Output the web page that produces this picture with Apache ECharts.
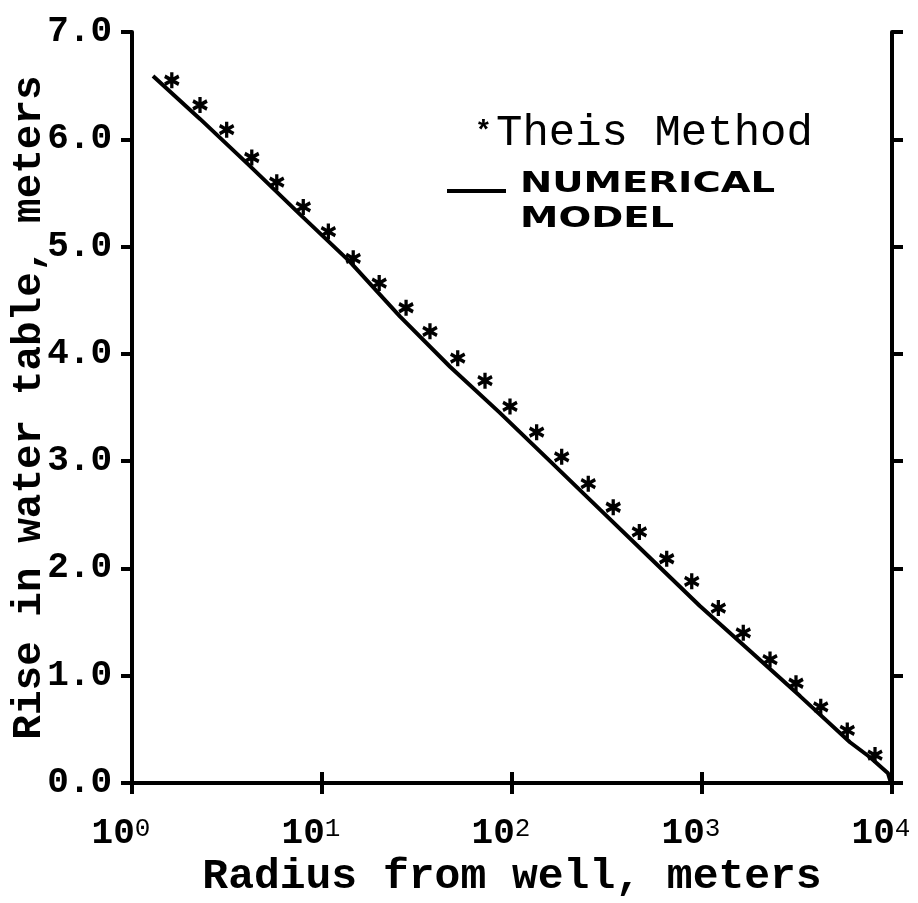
<!DOCTYPE html>
<html>
<head>
<meta charset="utf-8">
<script src="https://cdn.jsdelivr.net/npm/echarts@6/dist/echarts.min.js"></script>
<style>
  html, body { margin: 0; padding: 0; background: #fff; }
  #chart { width: 918px; height: 903px; }
</style>
</head>
<body>
<div id="chart"></div>
<script>
  // Theis method points (radius m, rise m)
  var theisRadius = [1.62, 2.28, 3.15, 4.27, 5.78, 7.97, 10.8, 14.6, 20.0, 27.7, 37.0, 51.8, 72.1, 97.6,
    134.8, 182.6, 252, 341, 468, 652, 883, 1219, 1649, 2280, 3124, 4217, 5816, 8140];
  var theisRise = [6.55, 6.32, 6.09, 5.83, 5.60, 5.37, 5.14, 4.89, 4.66, 4.43, 4.21, 3.96, 3.75, 3.51,
    3.27, 3.04, 2.79, 2.57, 2.34, 2.09, 1.88, 1.63, 1.40, 1.15, 0.93, 0.71, 0.49, 0.26];

  // numerical model curve
  var modelRadius = [1.29, 2.28, 4.18, 7.66, 14.0, 25.7, 47.2, 86.4, 158.5, 290, 532, 975, 1790,
    3280, 6010, 7660, 9530, 9800];
  var modelRise = [6.59, 6.19, 5.75, 5.30, 4.86, 4.35, 3.88, 3.45, 3.00, 2.55, 2.10, 1.65, 1.23,
    0.81, 0.38, 0.24, 0.09, 0.02];

  var yTicks = ['0.0', '1.0', '2.0', '3.0', '4.0', '5.0', '6.0', '7.0'];

  function pairs(xs, ys) {
    return xs.map(function (x, i) { return [x, ys[i]]; });
  }

  var mono = 'Liberation Mono';
  var axisLine = { show: true, lineStyle: { color: '#000', width: 4 } };
  var axisTick = { show: true, inside: false, length: 11, lineStyle: { color: '#000', width: 4 } };

  var myChart = echarts.init(document.getElementById('chart'));
  var option = {
    animation: false,
    backgroundColor: '#fff',
    grid: { left: 132, right: 26, top: 32, bottom: 120, outerBoundsMode: 'none', containLabel: false },
    xAxis: [{
      type: 'log', logBase: 10, min: 1, max: 10000,
      position: 'bottom',
      axisLine: axisLine, axisTick: axisTick,
      minorTick: { show: false }, splitLine: { show: false },
      axisLabel: {
        margin: 33,
        padding: [0, 22, 0, 0],
        formatter: function (v) {
          return '{b|10}{s|' + Math.round(Math.log10(v)) + '}';
        },
        rich: {
          b: { fontFamily: mono, fontSize: 36, fontWeight: 'bold', color: '#000', lineHeight: 36, verticalAlign: 'bottom' },
          s: { fontFamily: mono, fontSize: 26, color: '#000', lineHeight: 26, verticalAlign: 'top' }
        }
      },
      name: 'Radius from well, meters',
      nameLocation: 'middle', nameGap: 73, nameMoveOverlap: false,
      nameTextStyle: { fontFamily: mono, fontWeight: 'bold', fontSize: 43, color: '#000' }
    }, {
      type: 'log', logBase: 10, min: 1, max: 10000,
      position: 'top',
      axisLine: axisLine, axisTick: axisTick,
      axisLabel: { show: false }, splitLine: { show: false }
    }],
    yAxis: [{
      type: 'value', min: 0, max: 7, interval: 1,
      position: 'left',
      axisLine: axisLine, axisTick: axisTick, splitLine: { show: false },
      axisLabel: {
        margin: 20, fontFamily: mono, fontSize: 36, fontWeight: 'bold', color: '#000',
        formatter: function (v) { return yTicks[Math.round(v)]; }
      },
      name: 'Rise in water table, meters',
      nameLocation: 'middle', nameGap: 82, nameRotate: 90, nameMoveOverlap: false,
      nameTextStyle: { fontFamily: mono, fontWeight: 'bold', fontSize: 41, color: '#000' }
    }, {
      type: 'value', min: 0, max: 7, interval: 1,
      position: 'right',
      axisLine: axisLine, axisTick: axisTick, splitLine: { show: false },
      axisLabel: { show: false }
    }],
    series: [{
      name: 'NUMERICAL MODEL',
      type: 'line',
      data: pairs(modelRadius, modelRise),
      showSymbol: false,
      lineStyle: { color: '#000', width: 4 },
      z: 2
    }, {
      name: 'Theis Method',
      type: 'scatter',
      data: pairs(theisRadius, theisRise),
      symbol: 'path://M0,-10L0,10M-8.66,-5L8.66,5M-8.66,5L8.66,-5',
      symbolSize: [14, 16],
      itemStyle: { color: 'rgba(0,0,0,0)', borderColor: '#000', borderWidth: 3.5, opacity: 1 },
      z: 3
    }],
    graphic: [{
      type: 'text', left: 475, top: 118,
      style: { text: '*', font: 'bold 28px "Liberation Mono"', fill: '#000' }
    }, {
      type: 'text', left: 496, top: 111,
      style: { text: 'Theis Method', font: '44px "Liberation Mono"', fill: '#000' }
    }, {
      type: 'line', shape: { x1: 447, y1: 191, x2: 506, y2: 191 },
      style: { stroke: '#000', lineWidth: 4 }
    }, {
      type: 'text', left: 520, top: 170, scaleX: 1.33,
      style: { text: 'NUMERICAL', font: 'bold 29px "DejaVu Sans"', fill: '#000' }
    }, {
      type: 'text', left: 520, top: 205, scaleX: 1.33,
      style: { text: 'MODEL', font: 'bold 29px "DejaVu Sans"', fill: '#000' }
    }]
  };
  myChart.setOption(option);
</script>
</body>
</html>
